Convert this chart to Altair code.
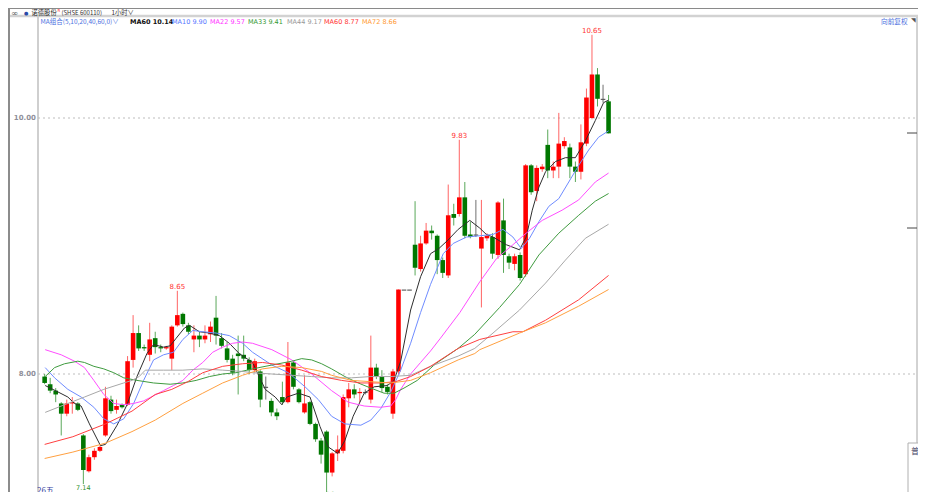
import altair as alt
import pandas as pd

# ---------------- data ----------------
opens = [7.98, 7.92, 7.87, 7.77, 7.69, 7.77, 7.77, 7.52, 7.24, 7.35,
         7.40, 7.52, 7.80, 7.72, 7.76, 7.76, 8.11, 8.32, 8.21, 8.15,
         8.28, 8.21, 8.20, 8.12, 8.38, 8.47, 8.38, 8.27, 8.30, 8.27,
         8.31, 8.44, 8.28, 8.20, 8.12, 8.16, 8.15, 8.11, 8.03, 8.02,
         7.90, 7.79, 7.70, 7.82, 7.78, 8.09, 7.88, 7.70, 7.78, 7.61,
         7.48, 7.55, 7.23, 7.38, 7.40, 7.81, 7.88, 7.85, 7.86, 7.80,
         8.05, 7.98, 7.90, 7.69, 8.02, 8.66, 8.66, 9.01, 8.82, 9.02,
         9.12, 9.08, 8.89, 8.77, 9.25, 9.25, 9.38, 9.09, 9.09, 8.98,
         9.06, 9.07, 8.93, 9.20, 8.92, 8.86, 8.93, 8.78, 9.63, 9.43,
         9.60, 9.79, 9.59, 9.62, 9.78, 9.77, 9.62, 9.58, 9.80, 10.00,
         10.34, 10.15, 10.13]
highs = [8.00, 7.97, 7.89, 7.78, 7.80, 7.82, 7.78, 7.53, 7.37, 7.42,
         7.44, 7.90, 7.83, 7.80, 7.77, 8.14, 8.46, 8.38, 8.23, 8.40,
         8.33, 8.23, 8.22, 8.38, 8.65, 8.48, 8.40, 8.38, 8.33, 8.38,
         8.41, 8.61, 8.32, 8.25, 8.15, 8.30, 8.30, 8.13, 8.12, 8.03,
         7.98, 7.81, 7.73, 7.94, 8.25, 8.10, 7.89, 7.99, 7.79, 7.62,
         7.50, 7.56, 7.39, 7.52, 7.84, 7.93, 7.92, 7.89, 7.88, 8.30,
         8.08, 8.03, 7.92, 8.04, 8.66, 8.66, 8.66, 9.35, 9.08, 9.18,
         9.16, 9.09, 8.91, 9.48, 9.33, 9.83, 9.50, 9.19, 9.36, 9.36,
         9.10, 9.10, 9.35, 9.37, 8.94, 8.94, 8.95, 9.64, 9.64, 9.63,
         9.64, 9.91, 9.66, 10.04, 9.85, 9.80, 9.66, 9.95, 10.23, 10.65,
         10.39, 10.26, 10.18]
lows = [7.92, 7.85, 7.78, 7.52, 7.67, 7.69, 7.71, 7.14, 7.23, 7.33,
        7.39, 7.51, 7.69, 7.69, 7.73, 7.75, 8.05, 8.18, 8.18, 8.10,
        8.16, 8.17, 8.19, 8.03, 8.37, 8.37, 8.31, 8.17, 8.21, 8.24,
        8.25, 8.23, 8.20, 8.09, 7.99, 7.84, 8.10, 8.00, 8.01, 7.74,
        7.80, 7.67, 7.64, 7.76, 7.77, 7.88, 7.77, 7.69, 7.60, 7.47,
        7.30, 7.06, 7.20, 7.32, 7.38, 7.74, 7.81, 7.78, 7.84, 7.77,
        7.96, 7.86, 7.84, 7.65, 8.00, 8.66, 8.66, 8.77, 8.80, 9.01,
        9.05, 8.78, 8.75, 8.75, 9.16, 9.23, 9.06, 9.06, 9.07, 8.52,
        9.04, 8.90, 8.90, 8.79, 8.82, 8.81, 8.73, 8.76, 9.40, 9.35,
        9.58, 9.53, 9.53, 9.53, 9.76, 9.53, 9.50, 9.52, 9.78, 9.99,
        10.09, 10.12, 9.88]
closes = [7.93, 7.87, 7.84, 7.69, 7.77, 7.78, 7.72, 7.25, 7.35, 7.40,
          7.43, 7.81, 7.71, 7.75, 7.74, 8.10, 8.32, 8.20, 8.20, 8.27,
          8.21, 8.20, 8.21, 8.37, 8.46, 8.39, 8.33, 8.30, 8.27, 8.30,
          8.37, 8.30, 8.22, 8.11, 8.01, 8.14, 8.12, 8.03, 8.10, 7.80,
          7.90, 7.70, 7.67, 7.78, 8.09, 7.90, 7.78, 7.77, 7.61, 7.49,
          7.37, 7.23, 7.38, 7.41, 7.82, 7.88, 7.84, 7.86, 7.86, 8.05,
          7.98, 7.89, 7.86, 8.02, 8.66, 8.66, 8.66, 8.83, 9.02, 9.12,
          9.10, 8.89, 8.79, 9.24, 9.22, 9.38, 9.08, 9.07, 9.09, 9.07,
          9.08, 8.94, 9.34, 8.93, 8.87, 8.92, 8.75, 9.63, 9.42, 9.61,
          9.62, 9.59, 9.62, 9.80, 9.82, 9.62, 9.58, 9.81, 10.16, 10.34,
          10.15, 10.15, 9.88]

ma_names = ["MA5", "MA10", "MA22", "MA33", "MA44", "MA60", "MA72"]
ma_colors = ["#2e2e2e", "#6f8cff", "#ff4dff", "#3f9b3f", "#a8a8a8", "#ff4040", "#ffa040"]
ma5_pts = [(0.1, 7.91), (2.4, 7.86), (4.2, 7.82), (5.4, 7.77), (6.6, 7.75), (8.1, 7.61), (10.1, 7.44),
           (11.0, 7.45), (13.1, 7.60), (14.9, 7.76), (16.7, 7.98), (18.5, 8.16), (19.7, 8.23), (21.5, 8.21),
           (22.7, 8.22), (23.8, 8.28), (25.3, 8.36), (26.2, 8.38), (28.0, 8.33), (29.8, 8.32), (31.6, 8.30),
           (33.4, 8.24), (35.2, 8.16), (37.6, 8.09), (39.9, 7.88), (41.7, 7.82), (42.9, 7.76), (43.8, 7.82),
           (45.9, 7.85), (48.0, 7.82), (49.8, 7.59), (51.3, 7.43), (53.0, 7.38), (54.3, 7.48), (55.8, 7.67),
           (57.8, 7.85), (59.6, 7.90), (62.0, 7.91), (63.2, 7.95), (64.4, 8.10), (66.2, 8.50), (68.0, 8.76),
           (69.8, 8.94), (71.3, 8.98), (72.8, 9.04), (74.8, 9.13), (76.9, 9.20), (78.7, 9.14), (79.9, 9.09),
           (81.1, 9.07), (83.5, 9.01), (85.9, 8.97), (87.1, 9.07), (88.2, 9.28), (89.4, 9.46), (90.6, 9.58),
           (92.4, 9.66), (94.2, 9.69), (96.0, 9.69), (97.8, 9.82), (99.6, 9.98), (101.1, 10.12), (102, 10.14)]
ma10_pts = [(0.1, 8.05), (1.8, 7.97), (4.2, 7.88), (6.6, 7.82), (8.9, 7.74), (10.7, 7.65), (12.5, 7.61),
            (14.3, 7.65), (16.1, 7.77), (17.9, 7.95), (19.7, 8.11), (21.5, 8.15), (23.3, 8.17), (25.0, 8.27),
            (26.8, 8.34), (28.6, 8.33), (31.0, 8.32), (33.4, 8.30), (35.8, 8.24), (37.6, 8.17), (41.1, 8.07),
            (44.1, 8.01), (47.1, 7.90), (49.5, 7.80), (51.9, 7.67), (54.3, 7.61), (57.2, 7.60), (59.0, 7.64),
            (60.8, 7.73), (62.6, 7.86), (64.4, 8.03), (66.2, 8.24), (68.0, 8.48), (69.8, 8.70), (72.1, 8.94),
            (73.9, 9.02), (76.3, 9.07), (78.7, 9.08), (81.1, 9.09), (82.9, 9.13), (84.7, 9.07), (86.2, 8.98),
            (87.7, 9.06), (89.4, 9.19), (91.2, 9.31), (93.0, 9.37), (94.8, 9.50), (96.6, 9.63), (98.4, 9.75),
            (100.2, 9.85), (102, 9.90)]
ma22_pts = [(0.1, 8.19), (3.0, 8.15), (5.4, 8.10), (7.2, 8.05), (8.9, 7.95), (10.7, 7.84), (12.5, 7.77),
            (14.3, 7.76), (16.1, 7.77), (17.9, 7.79), (19.7, 7.83), (21.5, 7.87), (23.3, 7.91), (25.0, 7.95),
            (26.8, 8.03), (28.6, 8.09), (30.4, 8.17), (32.2, 8.21), (34.0, 8.24), (35.8, 8.25), (37.6, 8.24),
            (41.1, 8.19), (44.7, 8.11), (48.3, 8.00), (51.9, 7.87), (54.9, 7.78), (57.8, 7.75), (60.8, 7.74),
            (62.6, 7.75), (63.5, 7.80), (64.4, 7.88), (66.2, 8.00), (68.0, 8.09), (69.8, 8.18), (71.6, 8.28),
            (75.1, 8.48), (78.7, 8.72), (81.7, 8.90), (84.7, 9.01), (87.1, 9.10), (90.0, 9.20), (93.6, 9.28),
            (96.6, 9.36), (99.6, 9.50), (102, 9.57)]
ma33_pts = [(0.1, 7.98), (1.8, 8.05), (3.6, 8.08), (6.0, 8.10), (7.2, 8.09), (8.9, 8.06), (10.7, 8.04),
            (12.5, 8.01), (14.3, 7.97), (16.7, 7.95), (19.7, 7.93), (22.7, 7.92), (25.0, 7.93), (27.4, 7.95),
            (29.8, 7.98), (32.2, 8.00), (34.6, 8.01), (37.6, 8.04), (41.1, 8.07), (44.7, 8.10), (46.5, 8.12),
            (48.3, 8.11), (50.1, 8.08), (51.9, 8.04), (54.3, 7.98), (56.7, 7.93), (59.0, 7.89), (61.4, 7.85),
            (63.2, 7.85), (65.0, 7.89), (67.4, 7.95), (70.7, 8.08), (74.8, 8.20), (77.8, 8.31), (82.3, 8.52),
            (85.9, 8.70), (89.4, 8.93), (93.0, 9.10), (96.6, 9.24), (99.6, 9.35), (102, 9.41)]
ma44_pts = [(0.1, 7.70), (3.6, 7.76), (7.2, 7.82), (10.7, 7.88), (14.3, 7.93), (15.8, 7.95), (17.1, 7.98),
            (18.2, 8.03), (21.5, 8.03), (25.0, 8.03), (28.6, 8.04), (32.2, 8.03), (35.8, 8.02), (37.6, 8.01),
            (41.1, 8.00), (44.7, 7.99), (48.3, 7.98), (51.9, 7.97), (55.5, 7.97), (59.0, 7.98), (62.6, 7.98),
            (66.2, 7.99), (69.8, 8.06), (74.8, 8.14), (77.8, 8.20), (81.1, 8.32), (85.9, 8.50), (90.6, 8.71),
            (94.2, 8.89), (97.8, 9.06), (102, 9.17)]
ma60_pts = [(0, 7.45), (5.1, 7.51), (11.0, 7.61), (15.8, 7.71), (20.0, 7.84), (23.0, 7.88), (25.9, 7.94),
            (28.6, 8.01), (32.2, 8.06), (35.8, 8.08), (39.4, 8.09), (42.9, 8.07), (46.5, 8.03), (50.1, 7.98),
            (53.7, 7.95), (57.2, 7.93), (60.8, 7.93), (63.5, 7.94), (66.2, 7.98), (69.8, 8.06), (74.8, 8.20),
            (78.7, 8.27), (84.7, 8.33), (86.5, 8.33), (90.6, 8.42), (96.6, 8.58), (102, 8.77)]
ma72_pts = [(0, 7.34), (5.1, 7.39), (11.0, 7.46), (15.8, 7.55), (20.0, 7.64), (25.0, 7.77), (28.6, 7.85),
            (32.2, 7.93), (35.8, 7.99), (39.4, 8.04), (42.9, 8.06), (46.5, 8.05), (50.1, 8.02), (51.9, 7.99),
            (55.5, 7.95), (59.0, 7.94), (62.6, 7.93), (66.2, 7.95), (69.8, 8.01), (74.8, 8.11), (77.8, 8.16),
            (78.7, 8.19), (85.9, 8.32), (90.6, 8.40), (96.6, 8.53), (102, 8.66)]
ma_series = [ma5_pts, ma10_pts, ma22_pts, ma33_pts, ma44_pts, ma60_pts, ma72_pts]

ext_high_i = [99, 75, 24]
ext_high_v = [10.65, 9.83, 8.65]
ext_low_i = [7]
ext_low_v = [7.14]
ext_low_cut_i = [51]
ext_low_cut_v = [7.06]

grid_prices = [8.0, 10.0]

legend_texts = ["MA60 10.14", "MA10 9.90", "MA22 9.57", "MA33 9.41", "MA44 9.17", "MA60 8.77", "MA72 8.66"]
legend_colors = ["#111111", "#5577ff", "#ff33ff", "#339933", "#999999", "#ff3333", "#ff9933"]

# ---------------- layout ----------------
W, H = 910, 484
PX_PER_BAR = 5.59
XMIN = -32 / PX_PER_BAR
XMAX = XMIN + W / PX_PER_BAR
YMAX = 10 + 110 / 128
YMIN = YMAX - H / 128
xs = alt.Scale(domain=[XMIN, XMAX], nice=False, zero=False)
ys = alt.Scale(domain=[YMIN, YMAX], nice=False, zero=False)
CJK = "Noto Sans CJK SC"
NUM = "DejaVu Sans"

rows = []
for i, (o, h, l, c) in enumerate(zip(opens, highs, lows, closes)):
    kind = "up" if c > o else ("down" if c < o else "flat")
    top, bot = max(o, c), min(o, c)
    if top - bot < 0.009:
        bot = top - 0.009
    rows.append(dict(i=i, o=o, h=h, l=l, c=c, top=top, bot=bot, kind=kind))
cdf = pd.DataFrame(rows)

X = alt.X("i:Q", scale=xs, axis=None)

wicks = alt.Chart(cdf).mark_rule(strokeWidth=1).encode(
    x=X, y=alt.Y("l:Q", scale=ys, axis=None), y2="h:Q",
    color=alt.Color("kind:N", scale=alt.Scale(domain=["up", "down", "flat"],
                                               range=["#ff6464", "#5aa85a", "#707070"]), legend=None))
bodies = alt.Chart(cdf).mark_bar(size=4.6).encode(
    x=X, y=alt.Y("top:Q", scale=ys, axis=None), y2="bot:Q",
    color=alt.Color("kind:N", scale=alt.Scale(domain=["up", "down", "flat"],
                                               range=["#ff0000", "#007700", "#5a5a5a"]), legend=None))

ma_rows = []
for name, pts in zip(ma_names, ma_series):
    for k, (xi, v) in enumerate(pts):
        ma_rows.append(dict(ma=name, i=xi, v=v, k=k))
mdf = pd.DataFrame(ma_rows)
ma_lines = alt.Chart(mdf).mark_line(strokeWidth=1).encode(
    x=X, y=alt.Y("v:Q", scale=ys, axis=None), order="k:Q",
    color=alt.Color("ma:N", scale=alt.Scale(domain=ma_names, range=ma_colors), legend=None))

hi_lab = alt.Chart(pd.DataFrame({"i": ext_high_i, "v": ext_high_v})).mark_text(
    font=NUM, fontSize=7, color="#ff3333", baseline="alphabetic", dy=-2).encode(
    x=X, y=alt.Y("v:Q", scale=ys, axis=None), text=alt.Text("v:Q", format=".2f"))
lo_lab = alt.Chart(pd.DataFrame({"i": ext_low_i, "v": ext_low_v})).mark_text(
    font=NUM, fontSize=6.5, color="#2f8f2f", baseline="top", dy=1).encode(
    x=X, y=alt.Y("v:Q", scale=ys, axis=None), text=alt.Text("v:Q", format=".2f"))
lo_lab_cut = alt.Chart(pd.DataFrame({"i": ext_low_cut_i, "v": ext_low_cut_v})).mark_text(
    font=NUM, fontSize=7, color="#2f8f2f", baseline="top", dy=-3).encode(
    x=X, y=alt.Y("v:Q", scale=ys, axis=None), text=alt.Text("v:Q", format=".2f"))

gdf = pd.DataFrame({"p": grid_prices})
grid = alt.Chart(gdf).mark_rule(color="#bdbdbd", strokeWidth=1, strokeDash=[2, 3]).encode(
    y=alt.Y("p:Q", scale=ys, axis=None), x=alt.value(30), x2=alt.value(909))
ylabels = alt.Chart(gdf).mark_text(font=NUM, fontSize=7, fontWeight="bold", color="#8f8f9a",
                                   align="right", baseline="middle").encode(
    y=alt.Y("p:Q", scale=ys, axis=None), x=alt.value(28), text=alt.Text("p:Q", format=".2f"))

ONE = pd.DataFrame({"k": [0]})


def txt(s, x, y, color="#333333", size=7, align="left", baseline="middle", font=CJK, weight="normal"):
    return alt.Chart(ONE).mark_text(text=s, align=align, baseline=baseline, color=color,
                                    fontSize=size, font=font, fontWeight=weight).encode(
        x=alt.value(x), y=alt.value(y))


def hline(y, x1, x2, color, w=1.0):
    return alt.Chart(ONE).mark_rule(color=color, strokeWidth=w).encode(
        x=alt.value(x1), x2=alt.value(x2), y=alt.value(y))


def vline(x, y1, y2, color, w=1.0):
    return alt.Chart(ONE).mark_rule(color=color, strokeWidth=w).encode(
        x=alt.value(x), y=alt.value(y1), y2=alt.value(y2))


deco = [
    hline(0.5, 0, 910, "#8a8a8a", 1),
    hline(8, 0, 910, "#d2d2d2", 2.5),
    vline(1, 0, 484, "#8c8c8c", 2),
    vline(30, 9, 484, "#cfcfcf", 2),
    vline(909, 9, 435, "#a6a6a6", 1),
    hline(125, 899, 909, "#444444", 1),
    hline(220, 899, 909, "#444444", 1),
    vline(900, 435, 484, "#b0b0b0", 1),
    hline(435, 900, 910, "#b0b0b0", 1),
]

texts = [
    txt("∞", 3, 4.5, "#555555", 8.5, font=NUM),
    txt("●", 16, 4.5, "#2a4aa8", 5, font=NUM),
    txt("诺德股份", 23.5, 4.8, "#222222", 6.3),
    txt("R", 49.5, 3, "#ff3333", 4, font=NUM),
    txt("(SHSE 600110)", 53.5, 4.8, "#333333", 6),
    txt("1小时∨", 103.5, 4.8, "#333333", 6.3),
    txt("MA组合(5,10,20,40,60,0)∨", 32.5, 13.7, "#4a6fe0", 6.5),
    txt("向前复权", 873, 14, "#4a6fe0", 6.7),
    txt("◥", 903, 12, "#555555", 6, font=NUM),
    txt("26五", 29, 479, "#3340a0", 8, baseline="top"),
    txt("普", 903, 444, "#444466", 8),
]
lx = [122, 164, 202, 240, 279, 316, 354]
for s, c, x in zip(legend_texts, legend_colors, lx):
    texts.append(txt(s, x, 13.7, c, 6.5, font=NUM, weight="bold" if s == "MA60 10.14" else "normal"))

chart = alt.layer(
    *deco, grid, ylabels, wicks, bodies, ma_lines, hi_lab, lo_lab, lo_lab_cut, *texts
).resolve_scale(color="independent").properties(
    width=W, height=H, autosize=alt.AutoSizeParams(type="none"), padding=0,
    background="white"
).configure_view(stroke=None)

chart.save("out.html", embed_options={"renderer": "svg", "actions": False})
